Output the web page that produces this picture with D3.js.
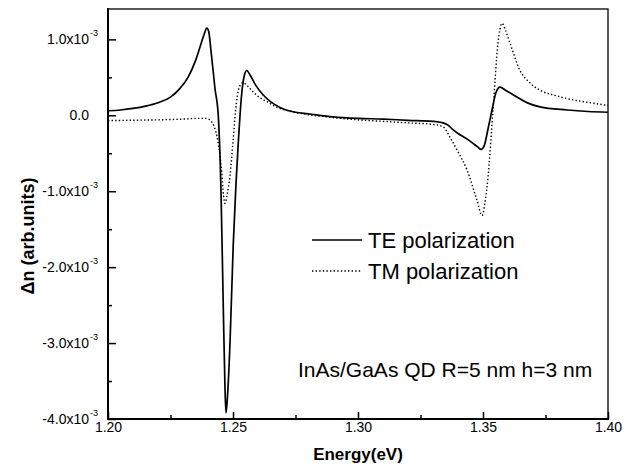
<!DOCTYPE html>
<html>
<head>
<meta charset="utf-8">
<script src="https://cdn.jsdelivr.net/npm/d3@7"></script>
<style>
  html, body { margin: 0; padding: 0; background: #fff; }
  svg { display: block; font-family: "Liberation Sans", Arial, sans-serif; }
</style>
</head>
<body>
<svg id="chart" width="627" height="472"></svg>
<script>
// Energy (eV) and Δn (in units of 1e-3)
const teEnergy = [1.200,1.205,1.210,1.215,1.220,1.225,1.2288,1.232,1.235,1.237,1.2385,1.2395,1.2403,1.2412,1.2428,1.2441,1.2452,1.2461,1.2468,1.2472,1.2478,1.2488,1.2501,1.2512,1.2521,1.2535,1.2545,1.2555,1.2570,1.2590,1.2620,1.2650,1.2690,1.2750,1.2800,1.2900,1.3000,1.3100,1.3200,1.3300,1.3340,1.3360,1.3380,1.3400,1.3420,1.3440,1.3460,1.3480,1.3492,1.3505,1.3520,1.3536,1.3552,1.3568,1.3590,1.3636,1.3680,1.3728,1.3836,1.3920,1.4000];
const teValue  = [0.06,0.07,0.09,0.12,0.165,0.24,0.355,0.50,0.72,0.92,1.07,1.15,1.10,0.85,0.35,0.00,-1.00,-2.50,-3.60,-3.92,-3.70,-3.00,-1.70,-0.90,-0.37,0.29,0.52,0.59,0.52,0.40,0.27,0.18,0.10,0.04,0.02,-0.02,-0.04,-0.05,-0.066,-0.08,-0.10,-0.13,-0.19,-0.24,-0.28,-0.32,-0.37,-0.42,-0.45,-0.40,-0.18,0.07,0.30,0.37,0.33,0.24,0.16,0.11,0.07,0.05,0.04];

const tmEnergy = [1.200,1.210,1.220,1.230,1.236,1.239,1.241,1.2425,1.2440,1.2455,1.2462,1.2468,1.2476,1.2488,1.2500,1.2510,1.2525,1.2540,1.2560,1.2580,1.2600,1.2640,1.2680,1.2720,1.2800,1.2900,1.3000,1.3100,1.3200,1.3300,1.3340,1.3368,1.3400,1.3436,1.3476,1.3496,1.3508,1.3520,1.3540,1.3560,1.3576,1.3590,1.3608,1.3648,1.3690,1.3728,1.3790,1.3836,1.3920,1.4000];
const tmValue  = [-0.07,-0.065,-0.06,-0.05,-0.04,-0.04,-0.07,-0.15,-0.35,-0.75,-1.05,-1.16,-1.05,-0.80,-0.35,0.05,0.37,0.43,0.38,0.31,0.25,0.17,0.10,0.06,0.01,-0.03,-0.06,-0.08,-0.10,-0.12,-0.15,-0.29,-0.48,-0.72,-1.12,-1.32,-1.15,-0.82,0.07,0.95,1.21,1.12,0.95,0.59,0.42,0.33,0.26,0.22,0.17,0.13];

const xTicks = [1.20,1.25,1.30,1.35,1.40];
const xTickLabels = ["1.20","1.25","1.30","1.35","1.40"];
const xMinor = [1.225,1.275,1.325,1.375];
const yTicks = [1,0,-1,-2,-3,-4];
const yTickLabels = ["1.0x10","0.0","-1.0x10","-2.0x10","-3.0x10","-4.0x10"];
const yTickExp = ["-3","","-3","-3","-3","-3"];
const yMinor = [0.5,-0.5,-1.5,-2.5,-3.5];
const seriesNames = ["TE polarization","TM polarization"];
const annotation = "InAs/GaAs QD R=5 nm h=3 nm";

const L = 108, R = 608, T = 9, B = 419;
const svg = d3.select("#chart");
const x = d3.scaleLinear().domain([1.20,1.40]).range([L,R]);
const y = d3.scaleLinear().domain([-4,1.4]).range([B,T]);

// frame
svg.append("rect").attr("x",L).attr("y",T).attr("width",R-L).attr("height",B-T)
  .attr("fill","none").attr("stroke","#000").attr("stroke-width",1.3);

// curves
const line = (xs, ys) => d3.line().x((d,i)=>x(xs[i])).y((d,i)=>y(ys[i])).curve(d3.curveMonotoneX)(xs);
svg.append("path").attr("d", line(teEnergy, teValue)).attr("fill","none")
  .attr("stroke","#000").attr("stroke-width",1.7);
svg.append("path").attr("d", line(tmEnergy, tmValue)).attr("fill","none")
  .attr("stroke","#000").attr("stroke-width",1.4).attr("stroke-dasharray","1.4,2.2");

// x axis
const gx = svg.append("g").attr("transform",`translate(0,${B})`);
gx.call(d3.axisBottom(x).tickValues(xTicks).tickSize(-7).tickPadding(3)
  .tickFormat((d,i)=>xTickLabels[i]));
gx.append("g").call(d3.axisBottom(x).tickValues(xMinor).tickSize(-4).tickFormat(""));
gx.selectAll(".domain").remove();
gx.selectAll("line").attr("stroke","#000").attr("stroke-width",1.5);
gx.selectAll("text").attr("font-size",14).attr("fill","#000")
  .attr("font-family","'Liberation Sans', Arial, sans-serif");
svg.append("line").attr("x1",L-1).attr("x2",R+1).attr("y1",B).attr("y2",B)
  .attr("stroke","#000").attr("stroke-width",2);

// y axis
const gy = svg.append("g").attr("transform",`translate(${L},0)`);
gy.call(d3.axisLeft(y).tickValues(yTicks).tickSize(-8).tickFormat(""));
gy.append("g").call(d3.axisLeft(y).tickValues(yMinor).tickSize(-4).tickFormat(""));
gy.selectAll(".domain").remove();
gy.selectAll("line").attr("stroke","#000").attr("stroke-width",1.5);
svg.append("line").attr("x1",L).attr("x2",L).attr("y1",T-1).attr("y2",B+1)
  .attr("stroke","#000").attr("stroke-width",2);
yTicks.forEach((v,i)=>{
  const g = svg.append("g").attr("transform",`translate(0,${y(v)})`);
  g.append("text").attr("x", L-19).attr("y",5).attr("text-anchor","end")
    .attr("font-size",14).text(yTickLabels[i]);
  if (yTickExp[i]) g.append("text").attr("x", L-18).attr("y",-3)
    .attr("font-size",9).text(yTickExp[i]);
});

// axis titles
svg.append("text").attr("x",(L+R)/2).attr("y",460).attr("text-anchor","middle")
  .attr("font-size",17).attr("font-weight","bold").text("Energy(eV)");
svg.append("text").attr("transform","translate(34,236) rotate(-90)").attr("text-anchor","middle")
  .attr("font-size",18).attr("font-weight","bold").text("Δn (arb.units)");

// legend
const legY = [240, 271];
svg.append("line").attr("x1",312).attr("x2",362).attr("y1",legY[0]).attr("y2",legY[0])
  .attr("stroke","#000").attr("stroke-width",1.7);
svg.append("line").attr("x1",312).attr("x2",362).attr("y1",legY[1]).attr("y2",legY[1])
  .attr("stroke","#000").attr("stroke-width",1.4).attr("stroke-dasharray","1.4,2.2");
seriesNames.forEach((n,i)=>{
  svg.append("text").attr("x",368).attr("y",legY[i]+8).attr("font-size",22).text(n);
});
svg.append("text").attr("x",298).attr("y",377).attr("font-size",21).text(annotation);
</script>
</body>
</html>
